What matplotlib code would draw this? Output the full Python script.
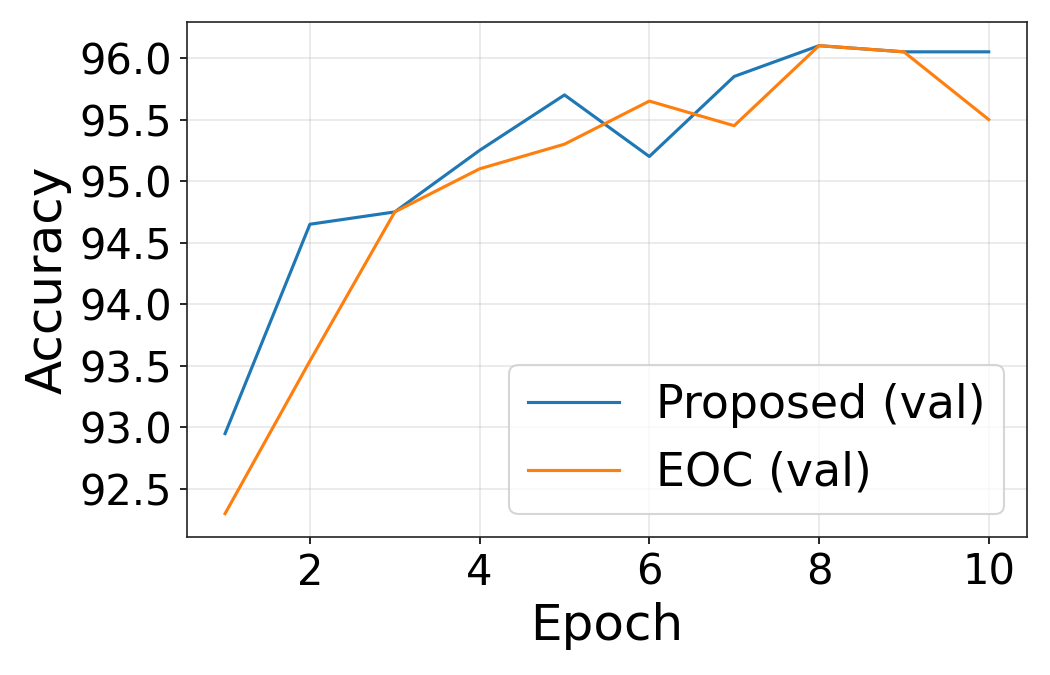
import matplotlib
matplotlib.use("Agg")
import matplotlib.pyplot as plt

epochs = [1, 2, 3, 4, 5, 6, 7, 8, 9, 10]
proposed_val = [92.95, 94.65, 94.75, 95.25, 95.70, 95.20, 95.85, 96.10, 96.05, 96.05]
eoc_val = [92.30, 93.54, 94.75, 95.10, 95.30, 95.65, 95.45, 96.10, 96.05, 95.50]

fig, ax = plt.subplots(figsize=(7, 4.5), dpi=150)
ax.plot(epochs, proposed_val, color="#1f77b4", label="Proposed (val)")
ax.plot(epochs, eoc_val, color="#ff7f0e", label="EOC (val)")
ax.set_xlabel("Epoch", fontsize=24)
ax.set_ylabel("Accuracy", fontsize=24)
ax.tick_params(labelsize=20)
ax.set_xticks([2, 4, 6, 8, 10])
ax.set_yticks([92.5, 93.0, 93.5, 94.0, 94.5, 95.0, 95.5, 96.0])
ax.grid(True, alpha=0.3)
for s in ax.spines.values():
    s.set_color("#222222")
ax.legend(fontsize=22, loc="lower right")
fig.subplots_adjust(left=0.178, right=0.978, top=0.967, bottom=0.2044)
fig.savefig("out.png", dpi=150)
